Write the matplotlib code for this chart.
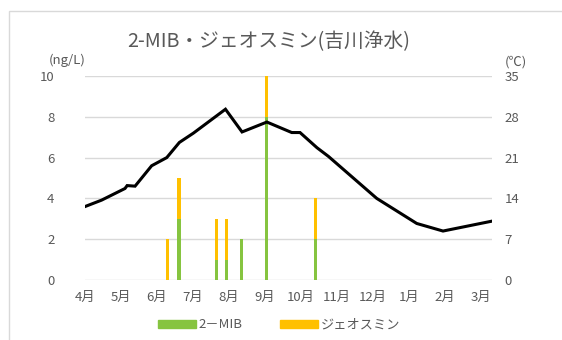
import matplotlib
matplotlib.use("Agg")
import matplotlib.pyplot as plt
from matplotlib.patches import Rectangle, Patch

plt.rcParams['font.family'] = ['Noto Sans CJK JP', 'DejaVu Sans']

# Month axis labels (fiscal year, April to March)
months = ["4月", "5月", "6月", "7月", "8月", "9月", "10月", "11月", "12月", "1月", "2月", "3月"]

# Sampling positions (months since start of April) and concentrations (ng/L)
sample_pos = [2.29, 2.61, 3.66, 3.94, 4.35, 5.05, 6.41]
mib = [0, 3, 1, 1, 2, 8, 2]
geosmin = [2, 2, 2, 2, 0, 2, 2]

# Water temperature (℃)
temp_pos = [0.0, 0.46, 1.11, 1.17, 1.39, 1.85, 2.27, 2.62, 3.01, 3.90, 4.36,
            5.05, 5.74, 5.97, 6.44, 6.76, 8.10, 9.21, 9.94, 11.3]
temp = [12.6, 13.7, 15.7, 16.2, 16.1, 19.6, 21.0, 23.6, 25.2, 29.3, 25.4,
        27.1, 25.3, 25.3, 22.7, 21.2, 14.0, 9.7, 8.4, 10.1]

GREEN = "#86C440"
YELLOW = "#FFC000"
TEXT = "#595959"
GRID = "#D9D9D9"

W, H = 562, 340
fig = plt.figure(figsize=(W / 100, H / 100), dpi=100)

# chart-area border
fig.patches.append(Rectangle((9 / W, -0.1), 1.0, 1 - 11 / H + 0.1, transform=fig.transFigure,
                             fill=False, edgecolor="#D9D9D9", linewidth=1.0))

ax = fig.add_axes([85 / W, 1 - 280 / H, (492 - 85) / W, (280 - 76) / H])
ax2 = ax.twinx()

bw = 0.085
ax.bar(sample_pos, mib, width=bw, color=GREEN, zorder=2)
ax.bar(sample_pos, geosmin, width=bw, bottom=mib, color=YELLOW, zorder=2)

ax.set_xlim(0, 11.3)
ax.set_ylim(0, 10)
ax.set_yticks(range(0, 11, 2))
ax.grid(axis="y", color=GRID, linewidth=1.0, zorder=0)
ax.set_axisbelow(True)
ax.set_xticks(range(len(months)))
ax.set_xticklabels(months)

ax2.plot(temp_pos, temp, color="black", linewidth=2.2, solid_joinstyle="miter", zorder=3)
ax2.set_ylim(0, 35)
ax2.set_yticks(range(0, 36, 7))

for a in (ax, ax2):
    for s in a.spines.values():
        s.set_visible(False)
    a.tick_params(length=0, colors=TEXT, labelsize=9.5)
ax.tick_params(axis="y", pad=22)
ax.tick_params(axis="x", pad=8)
ax2.tick_params(axis="y", pad=9)

fig.text(269 / W, 1 - 42 / H, "2-MIB・ジェオスミン(吉川浄水)", ha="center", va="center",
         fontsize=14.2, color=TEXT)
fig.text(67 / W, 1 - 60 / H, "(ng/L)", ha="center", va="center", fontsize=9.5, color=TEXT)
fig.text(516 / W, 1 - 62 / H, "(℃)", ha="center", va="center", fontsize=9.5, color=TEXT)

handles = [Patch(color=GREEN, label="2－MIB"), Patch(color=YELLOW, label="ジェオスミン")]
fig.legend(handles=handles, loc="center", bbox_to_anchor=(279 / W, 1 - 325 / H), ncol=2,
           frameon=False, fontsize=9.5, labelcolor=TEXT, handlelength=2.9, handleheight=0.6,
           handletextpad=0.2, columnspacing=2.8)

fig.savefig("out.png", dpi=100, facecolor="white")
